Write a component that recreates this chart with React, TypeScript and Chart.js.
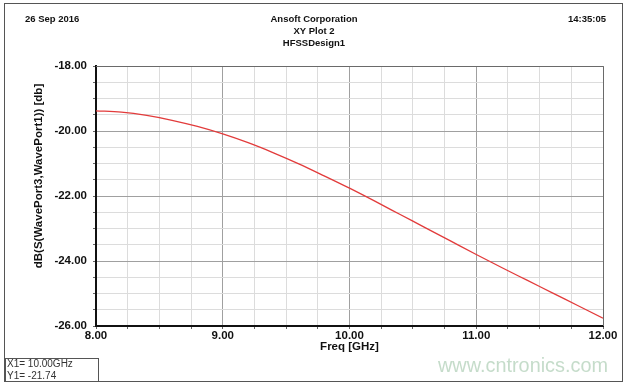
import React, { useEffect, useRef } from "react";
import { Chart, registerables } from "chart.js";

Chart.register(...registerables);

const freqGHz = [8.0, 8.2, 8.4, 8.6, 8.8, 9.0, 9.2, 9.4, 9.6, 9.8, 10.0, 10.2, 10.4, 10.6, 10.8, 11.0, 11.2, 11.4, 11.6, 11.8, 12.0];
const s31dB = [-19.38, -19.42, -19.52, -19.67, -19.86, -20.09, -20.36, -20.67, -21.01, -21.38, -21.76, -22.16, -22.57, -22.98, -23.39, -23.8, -24.2, -24.59, -24.98, -25.37, -25.76];

const headerLeft = "26 Sep 2016";
const headerCenter = ["Ansoft Corporation", "XY Plot 2", "HFSSDesign1"];
const headerRight = "14:35:05";
const yTitle = "dB(S(WavePort3,WavePort1)) [db]";
const xTitle = "Freq [GHz]";
const markerLines = ["X1= 10.00GHz", "Y1= -21.74"];
const watermark = "www.cntronics.com";

const FONT = "'Liberation Sans', Arial, sans-serif";

const decorPlugin = {
  id: "decor",
  afterDraw(chart: any) {
    const ctx = chart.ctx as CanvasRenderingContext2D;
    const a = chart.chartArea;
    ctx.save();
    ctx.strokeStyle = "#6a6a6a";
    ctx.lineWidth = 1;
    ctx.beginPath();
    ctx.moveTo(a.left, a.top + 0.5);
    ctx.lineTo(a.right + 0.5, a.top + 0.5);
    ctx.lineTo(a.right + 0.5, a.bottom);
    ctx.stroke();

    ctx.strokeStyle = "#555";
    ctx.strokeRect(4.5, 3.5, 618, 378);

    ctx.fillStyle = "#111";
    ctx.font = `bold 9.5px ${FONT}`;
    ctx.textBaseline = "middle";
    ctx.textAlign = "left";
    ctx.fillText(headerLeft, 25, 19);
    ctx.textAlign = "right";
    ctx.fillText(headerRight, 606, 19);
    ctx.textAlign = "center";
    headerCenter.forEach((t, i) => ctx.fillText(t, 314, 19 + i * 12));

    ctx.save();
    ctx.translate(39, 176);
    ctx.rotate(-Math.PI / 2);
    ctx.font = `bold 11.5px ${FONT}`;
    ctx.textAlign = "center";
    ctx.textBaseline = "middle";
    ctx.fillText(yTitle, 0, 0);
    ctx.restore();

    ctx.font = `bold 11.5px ${FONT}`;
    ctx.textAlign = "center";
    ctx.textBaseline = "middle";
    ctx.fillText(xTitle, (a.left + a.right) / 2, 347);

    ctx.strokeStyle = "#555";
    ctx.strokeRect(5.5, 358.5, 93, 23);
    ctx.fillStyle = "#333";
    ctx.font = `10px ${FONT}`;
    ctx.textAlign = "left";
    ctx.fillText(markerLines[0], 7, 364.5);
    ctx.fillText(markerLines[1], 7, 376);

    ctx.fillStyle = "rgba(140,185,150,0.5)";
    ctx.font = `21px ${FONT}`;
    ctx.textAlign = "left";
    ctx.fillText(watermark, 438, 366, 170);
    ctx.restore();
  },
};

export default function App() {
  const ref = useRef<HTMLCanvasElement | null>(null);
  useEffect(() => {
    document.body.style.margin = "0";
    document.body.style.background = "#fff";
    const chart = new Chart(ref.current as HTMLCanvasElement, {
      type: "line",
      data: {
        datasets: [
          {
            data: freqGHz.map((f, i) => ({ x: f, y: s31dB[i] })),
            borderColor: "#e23b3b",
            borderWidth: 1.3,
            pointRadius: 0,
            cubicInterpolationMode: "monotone",
            fill: false,
          },
        ],
      },
      options: {
        animation: false,
        responsive: false,
        devicePixelRatio: 1,
        layout: { padding: { left: 0, right: 24, top: 66, bottom: 0 } },
        plugins: { legend: { display: false }, tooltip: { enabled: false }, title: { display: false } },
        scales: {
          x: {
            type: "linear",
            min: 8,
            max: 12,
            afterFit: (s: any) => {
              s.height = 59;
            },
            border: { color: "#111", width: 2 },
            grid: {
              color: (c: any) => (Math.abs(c.tick.value - Math.round(c.tick.value)) < 1e-6 ? "#a0a0a0" : "#dcdcdc"),
              tickColor: "#666",
              tickLength: 3,
              drawTicks: true,
            },
            ticks: {
              stepSize: 0.25,
              autoSkip: false,
              maxRotation: 0,
              padding: 0,
              color: "#111",
              font: { family: FONT, size: 11.5, weight: "bold" },
              callback: (v: any) => (Math.abs(v - Math.round(v)) < 1e-6 ? Number(v).toFixed(2) : ""),
            },
          },
          y: {
            type: "linear",
            min: -26,
            max: -18,
            afterFit: (s: any) => {
              s.width = 96;
            },
            border: { color: "#111", width: 2 },
            grid: {
              color: (c: any) => (Math.abs(c.tick.value / 2 - Math.round(c.tick.value / 2)) < 1e-6 ? "#a0a0a0" : "#dcdcdc"),
              tickColor: "#666",
              tickLength: 3,
              drawTicks: true,
            },
            ticks: {
              stepSize: 0.5,
              autoSkip: false,
              padding: 6,
              color: "#111",
              font: { family: FONT, size: 11.5, weight: "bold" },
              callback: (v: any) => (Math.abs(v / 2 - Math.round(v / 2)) < 1e-6 ? Number(v).toFixed(2) : ""),
            },
          },
        },
      } as any,
      plugins: [decorPlugin],
    });
    return () => chart.destroy();
  }, []);
  return (
    <div style={{ position: "absolute", left: 0, top: 0, width: 627, height: 385, background: "#fff" }}>
      <canvas ref={ref} width={627} height={385} style={{ display: "block" }} />
    </div>
  );
}
